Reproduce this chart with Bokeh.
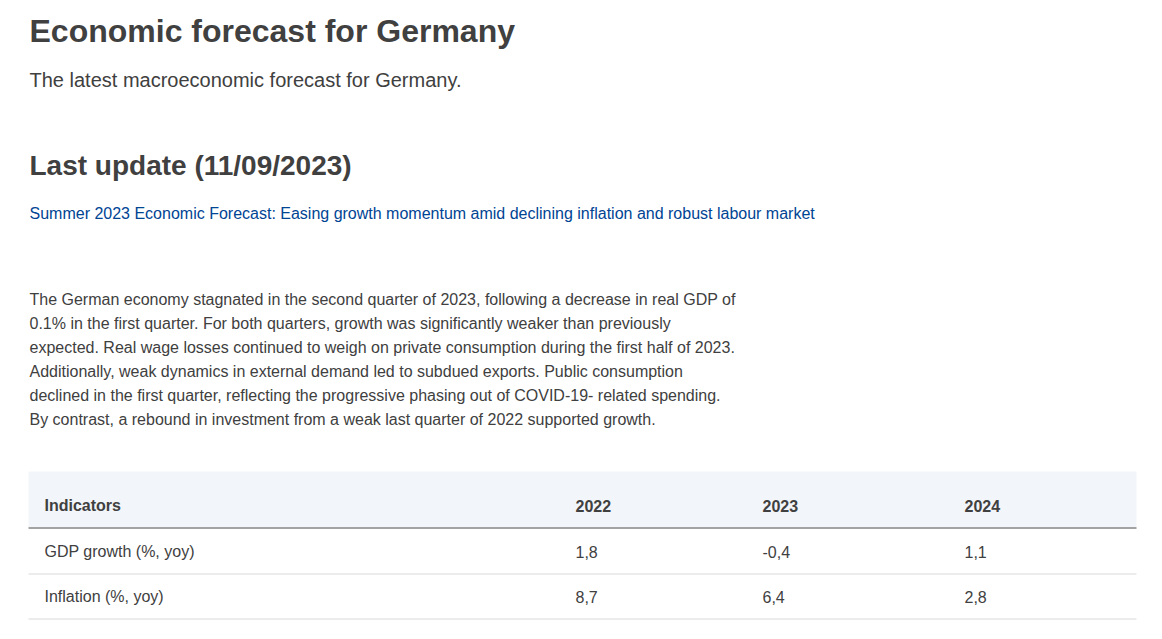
from bokeh.plotting import figure
from bokeh.models import Range1d, ColumnDataSource
from bokeh.core.properties import value
from bokeh.embed import file_html
from bokeh.resources import INLINE

# ---- content ----
title = "Economic forecast for Germany"
subtitle = "The latest macroeconomic forecast for Germany."
update_heading = "Last update (11/09/2023)"
link_text = ("Summer 2023 Economic Forecast: Easing growth momentum amid declining "
             "inflation and robust labour market")
paragraph_lines = [
    "The German economy stagnated in the second quarter of 2023, following a decrease in real GDP of",
    "0.1% in the first quarter. For both quarters, growth was significantly weaker than previously",
    "expected. Real wage losses continued to weigh on private consumption during the first half of 2023.",
    "Additionally, weak dynamics in external demand led to subdued exports. Public consumption",
    "declined in the first quarter, reflecting the progressive phasing out of COVID-19- related spending.",
    "By contrast, a rebound in investment from a weak last quarter of 2022 supported growth.",
]

header_label = "Indicators"
years = ["2022", "2023", "2024"]
indicators = ["GDP growth (%, yoy)", "Inflation (%, yoy)"]
gdp_growth = [1.8, -0.4, 1.1]
inflation = [8.7, 6.4, 2.8]

# ---- styling / layout ----
FONT = value("Liberation Sans")
TEXT = "#404040"
LINK = "#004494"
W, H = 1146, 623
OFF = 1

p = figure(width=W, height=H, output_backend="svg", toolbar_location=None,
           x_range=Range1d(OFF, OFF + W), y_range=Range1d(OFF + H, OFF),
           min_border=0, outline_line_color=None)
p.axis.visible = False
p.grid.visible = False
p.background_fill_color = "white"
p.border_fill_color = "white"

LEFT = 30

def txt(x, y, s, size, color=TEXT, style="normal"):
    p.text(x=[x], y=[y], text=[s], text_font=FONT, text_font_size=f"{size}px",
           text_color=color, text_font_style=style, text_baseline="alphabetic",
           text_align="left")

txt(LEFT, 31, title, 32, style="bold")
txt(LEFT, 80, subtitle, 20)
txt(LEFT, 166, update_heading, 28, style="bold")
txt(LEFT, 214, link_text, 16, color=LINK)

para_y = [300 + 24 * i for i in range(len(paragraph_lines))]
p.text(x=[LEFT] * len(paragraph_lines), y=para_y, text=paragraph_lines,
       text_font=FONT, text_font_size="16px", text_color=TEXT,
       text_baseline="alphabetic")

# ---- table ----
T_L, T_R = 29, 1137
p.quad(left=[T_L], right=[T_R], top=[472], bottom=[527.5],
       fill_color="#f2f5f9", line_color=None)
p.segment(x0=[T_L], x1=[T_R], y0=[528.5], y1=[528.5], line_color="#a3a3a3", line_width=2)
p.segment(x0=[T_L, T_L], x1=[T_R, T_R], y0=[574.5, 619.5], y1=[574.5, 619.5],
          line_color="#d9d9d9", line_width=1)

col_x = [576, 763, 965]
label_x = 45
header_y = 506
row_y = [552, 597]

p.text(x=[label_x] + col_x, y=[header_y] * 4, text=[header_label] + years,
       text_font=FONT, text_font_size="16px", text_color=TEXT,
       text_font_style="bold", text_baseline="alphabetic")

def fmt(v):
    return f"{v:.1f}".replace(".", ",")

for yy, name, vals in zip(row_y, indicators, [gdp_growth, inflation]):
    src = ColumnDataSource(dict(x=[label_x] + col_x, y=[yy] * 4,
                                t=[name] + [fmt(v) for v in vals]))
    p.text(x="x", y="y", text="t", source=src, text_font=FONT,
           text_font_size="16px", text_color=TEXT, text_baseline="alphabetic")

open("out.html", "w").write(file_html(p, INLINE))
